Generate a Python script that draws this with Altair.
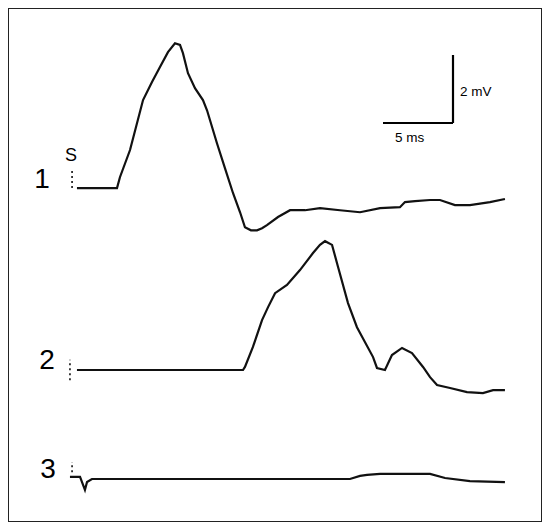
import altair as alt
import pandas as pd

# ---- data (time in ms, voltage in mV relative to each trace's baseline)
t1 = [0.14, 3.0, 3.21, 3.93, 4.86, 5.5, 6.07, 6.64, 7.14, 7.5, 7.71, 8.07, 8.57, 9.14, 9.43,
      10.14, 10.71, 11.29, 11.79, 12.14, 12.57, 13.0, 13.36, 13.71, 14.5, 15.36, 16.43, 17.5,
      18.93, 20.36, 21.79, 23.21, 23.57, 24.29, 25.36, 26.07, 27.14, 28.21, 29.64, 30.71]
v1 = [0, 0, 0.32, 1.12, 2.59, 3.12, 3.56, 4.0, 4.26, 4.21, 3.97, 3.38, 2.94, 2.59, 2.29,
      1.32, 0.59, -0.15, -0.71, -1.15, -1.24, -1.24, -1.18, -1.09, -0.85, -0.65, -0.65, -0.59,
      -0.65, -0.71, -0.59, -0.56, -0.41, -0.38, -0.35, -0.35, -0.5, -0.5, -0.41, -0.32]

t2 = [0.14, 12.0, 12.14, 12.71, 13.36, 13.79, 14.29, 15.14, 16.07, 17.0, 17.5, 17.86, 18.36,
      18.79, 19.5, 20.14, 21.29, 21.57, 22.14, 22.64, 23.36, 24.07, 24.86, 25.36, 25.86, 26.79,
      28.0, 29.14, 29.86, 30.71]
v2 = [0, 0, 0.09, 0.68, 1.47, 1.85, 2.26, 2.5, 2.94, 3.44, 3.68, 3.79, 3.68,
      3.03, 1.97, 1.26, 0.38, 0.06, 0, 0.44, 0.65, 0.5, 0.09, -0.21, -0.44, -0.53,
      -0.65, -0.68, -0.59, -0.59]

t3 = [-0.36, 0.36, 0.71, 0.86, 1.21, 19.64, 20.36, 20.86, 21.79, 23.21, 25.36, 26.43, 28.21, 30.71]
v3 = [0.06, 0.06, -0.32, -0.09, 0, 0, 0.09, 0.12, 0.15, 0.15, 0.15, 0.03, -0.06, -0.09]

trace_names = ["1", "2", "3"]
stim_t = [-0.21, -0.36, -0.21]          # stimulus artefact time (ms)
stim_lo = [0.0, -0.3, 0.2]              # artefact extent (mV, rel. baseline)
stim_hi = [0.55, 0.3, 0.5]

scalebar_ms = 5
scalebar_mv = 2
scalebar_labels = ["5 ms", "2 mV"]

# ---- layout constants
offsets = {"1": 9.82, "2": 4.47, "3": 1.265}   # vertical stacking of traces (mV)
X_DOMAIN = [-67 / 14, (534 - 67) / 14]
Y_DOMAIN = [0, 514 / 34]

rows = []
for name, ts, vs in zip(trace_names, [t1, t2, t3], [v1, v2, v3]):
    for t, v in zip(ts, vs):
        rows.append({"trace": name, "t": t, "y": v + offsets[name]})
df = pd.DataFrame(rows)

xs = alt.Scale(domain=X_DOMAIN, nice=False, zero=False)
ys = alt.Scale(domain=Y_DOMAIN, nice=False, zero=False)

lines = alt.Chart(df).mark_line(color="#111111", strokeWidth=2.2).encode(
    x=alt.X("t:Q", scale=xs, axis=None),
    y=alt.Y("y:Q", scale=ys, axis=None),
    detail="trace:N",
    order="t:Q",
)

stim_df = pd.DataFrame({
    "trace": trace_names,
    "t": stim_t,
    "lo": [lo + offsets[n] for lo, n in zip(stim_lo, trace_names)],
    "hi": [hi + offsets[n] for hi, n in zip(stim_hi, trace_names)],
})
stims = alt.Chart(stim_df).mark_rule(color="black", strokeWidth=1.5, strokeDash=[2, 3]).encode(
    x=alt.X("t:Q", scale=xs), y=alt.Y("lo:Q", scale=ys), y2="hi:Q"
)

num_df = pd.DataFrame({
    "label": trace_names,
    "t": [-2.36, -2.0, -1.93],
    "y": [0.24 + offsets["1"], 0.26 + offsets["2"], 0.26 + offsets["3"]],
})
nums = alt.Chart(num_df).mark_text(
    fontSize=28, font="Liberation Sans", color="black", align="center", baseline="middle"
).encode(x=alt.X("t:Q", scale=xs), y=alt.Y("y:Q", scale=ys), text="label:N")

s_df = pd.DataFrame({"label": ["S"], "t": [-0.29], "y": [0.94 + offsets["1"]]})
s_txt = alt.Chart(s_df).mark_text(
    fontSize=18, font="Liberation Sans", color="black", align="center", baseline="middle"
).encode(x=alt.X("t:Q", scale=xs), y=alt.Y("y:Q", scale=ys), text="label:N")

# scale bar
SB_T1, SB_Y0 = 27.0, 11.735
sb_df = pd.DataFrame({
    "t": [SB_T1 - scalebar_ms, SB_T1],
    "t2": [SB_T1, SB_T1],
    "y": [SB_Y0, SB_Y0],
    "y2": [SB_Y0, SB_Y0 + scalebar_mv],
})
sbar = alt.Chart(sb_df).mark_rule(color="black", strokeWidth=2.2).encode(
    x=alt.X("t:Q", scale=xs), x2="t2:Q", y=alt.Y("y:Q", scale=ys), y2="y2:Q"
)
sbl_df = pd.DataFrame({
    "label": scalebar_labels,
    "t": [SB_T1 - scalebar_ms / 2 - 0.6, SB_T1 + 0.5],
    "y": [SB_Y0 - 0.45, SB_Y0 + 0.92],
})
sbl1 = alt.Chart(sbl_df.iloc[[0]]).mark_text(
    fontSize=13.5, font="Liberation Sans", color="black", align="center", baseline="middle"
).encode(x=alt.X("t:Q", scale=xs), y=alt.Y("y:Q", scale=ys), text="label:N")
sbl2 = alt.Chart(sbl_df.iloc[[1]]).mark_text(
    fontSize=13.5, font="Liberation Sans", color="black", align="left", baseline="middle"
).encode(x=alt.X("t:Q", scale=xs), y=alt.Y("y:Q", scale=ys), text="label:N")

chart = alt.layer(lines, stims, nums, s_txt, sbar, sbl1, sbl2).properties(
    width=534, height=514, padding=0, autosize=alt.AutoSizeParams(type="none")
).configure_view(stroke="#222222", strokeWidth=2)

chart.save("out.html", embed_options={"renderer": "svg", "actions": False})
